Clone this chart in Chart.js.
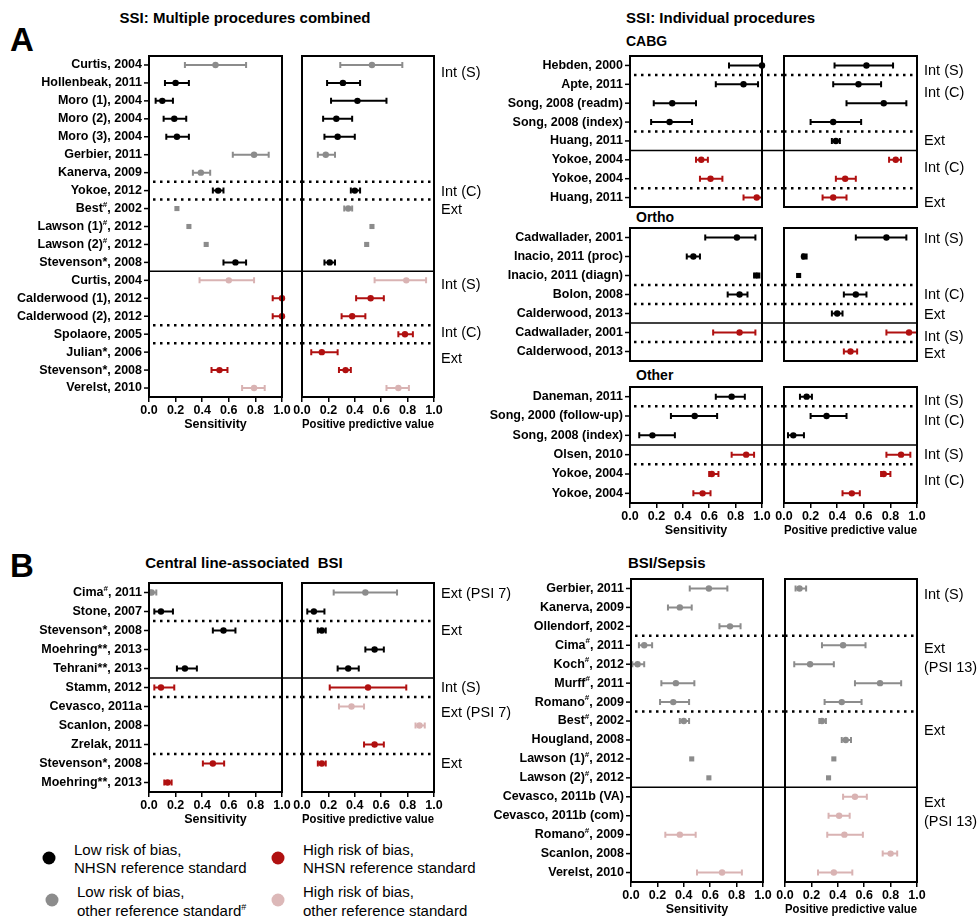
<!DOCTYPE html>
<html lang="en">
<head>
<meta charset="UTF-8">
<title>Sensitivity and PPV of surveillance methods</title>
<script src="https://cdn.jsdelivr.net/npm/chart.js"></script>
<style>
  body { margin: 0; background: #fff; font-family: 'Liberation Sans', Arial, Helvetica, sans-serif; }
  #fig { position: relative; width: 979px; height: 920px; overflow: hidden; background: #fff; }
  #fig canvas { position: absolute; }
  .t { position: absolute; white-space: nowrap; color: #000; line-height: 1.2; transform: translateY(-50%); }
  .c { transform: translate(-50%, -50%); }
  .b { font-weight: bold; }
  .dot { position: absolute; width: 13px; height: 13px; border-radius: 50%; transform: translate(-50%, -50%); }
  .leg { font-size: 15px; }
</style>
</head>
<body>
<div id="fig">
  <div class="t b" style="left:10px; top:40px; font-size:33px;">A</div>
  <div class="t b c" style="left:245px; top:18px; font-size:15px;">SSI: Multiple procedures combined</div>
  <div class="t b" style="left:626px; top:18px; font-size:15px;">SSI: Individual procedures</div>
  <div class="t b" style="left:626px; top:41px; font-size:14px;">CABG</div>
  <div class="t b" style="left:636px; top:217px; font-size:14px;">Ortho</div>
  <div class="t b" style="left:636px; top:375px; font-size:14px;">Other</div>

  <div class="t b" style="left:10px; top:566px; font-size:33px;">B</div>
  <div class="t b c" style="left:244px; top:563px; font-size:15px;">Central line-associated&nbsp; BSI</div>
  <div class="t b" style="left:628px; top:563px; font-size:15px;">BSI/Sepsis</div>

  <div class="dot" style="left:49px; top:858px; background:#000;"></div>
  <div class="t leg" style="left:74px; top:850px;">Low risk of bias,</div>
  <div class="t leg" style="left:74px; top:868px;">NHSN reference standard</div>
  <div class="dot" style="left:52px; top:900px; background:#8c8c8c;"></div>
  <div class="t leg" style="left:77px; top:892px;">Low risk of bias,</div>
  <div class="t leg" style="left:77px; top:911px;">other reference standard<sup style="font-size:9px;">#</sup></div>
  <div class="dot" style="left:278px; top:858px; background:#b01010;"></div>
  <div class="t leg" style="left:303px; top:850px;">High risk of bias,</div>
  <div class="t leg" style="left:303px; top:868px;">NHSN reference standard</div>
  <div class="dot" style="left:278px; top:900px; background:#dcb8b8;"></div>
  <div class="t leg" style="left:303px; top:892px;">High risk of bias,</div>
  <div class="t leg" style="left:303px; top:911px;">other reference standard</div>
</div>

<script>
    // row type: k = low risk NHSN, g = low risk other ref, r = high risk NHSN, p = high risk other ref
    // values are [estimate, lower CI, upper CI]; null = not reported

    // A, SSI: multiple procedures combined
    const ssiLabels = ['Curtis, 2004', 'Hollenbeak, 2011', 'Moro (1), 2004', 'Moro (2), 2004', 'Moro (3), 2004',
        'Gerbier, 2011', 'Kanerva, 2009', 'Yokoe, 2012', 'Best#, 2002', 'Lawson (1)#, 2012', 'Lawson (2)#, 2012',
        'Stevenson*, 2008', 'Curtis, 2004', 'Calderwood (1), 2012', 'Calderwood (2), 2012', 'Spolaore, 2005',
        'Julian*, 2006', 'Stevenson*, 2008', 'Verelst, 2010'];
    const ssiTypes = ['g', 'k', 'k', 'k', 'k', 'g', 'g', 'k', 'g', 'g', 'g', 'k', 'p', 'r', 'r', 'r', 'r', 'r', 'p'];
    const ssiSens = [[0.50, 0.27, 0.73], [0.20, 0.12, 0.30], [0.10, 0.05, 0.18], [0.19, 0.11, 0.28], [0.21, 0.13, 0.30],
        [0.79, 0.63, 0.90], [0.39, 0.33, 0.46], [0.52, 0.48, 0.56], [0.21], [0.30], [0.43],
        [0.65, 0.56, 0.73], [0.60, 0.38, 0.79], [1.00, 0.93, 1.00], [1.00, 0.93, 1.00], null,
        null, [0.53, 0.47, 0.59], [0.79, 0.70, 0.87]];
    const ssiPpv = [[0.53, 0.29, 0.76], [0.31, 0.19, 0.44], [0.42, 0.22, 0.64], [0.26, 0.16, 0.38], [0.27, 0.17, 0.40],
        [0.18, 0.12, 0.25], null, [0.40, 0.37, 0.44], [0.35, 0.32, 0.38], [0.53], [0.49],
        [0.21, 0.17, 0.25], [0.79, 0.55, 0.94], [0.52, 0.41, 0.62], [0.38, 0.30, 0.48], [0.78, 0.73, 0.84],
        [0.15, 0.07, 0.27], [0.33, 0.28, 0.37], [0.73, 0.64, 0.81]];

    // A, CABG
    const cabgLabels = ['Hebden, 2000', 'Apte, 2011', 'Song, 2008 (readm)', 'Song, 2008 (index)', 'Huang, 2011',
        'Yokoe, 2004', 'Yokoe, 2004', 'Huang, 2011'];
    const cabgTypes = ['k', 'k', 'k', 'k', 'k', 'r', 'r', 'r'];
    const cabgSens = [[1.00, 0.75, 1.00], [0.86, 0.65, 0.97], [0.32, 0.18, 0.50], [0.30, 0.16, 0.47], null,
        [0.54, 0.50, 0.59], [0.61, 0.53, 0.70], [0.96, 0.86, 1.00]];
    const cabgPpv = [[0.62, 0.38, 0.82], [0.56, 0.37, 0.73], [0.75, 0.47, 0.92], [0.37, 0.20, 0.58], [0.39, 0.36, 0.42],
        [0.84, 0.79, 0.88], [0.46, 0.39, 0.54], [0.37, 0.29, 0.47]];

    // A, Ortho
    const orthoLabels = ['Cadwallader, 2001', 'Inacio, 2011 (proc)', 'Inacio, 2011 (diagn)', 'Bolon, 2008',
        'Calderwood, 2013', 'Cadwallader, 2001', 'Calderwood, 2013'];
    const orthoTypes = ['k', 'k', 'k', 'k', 'k', 'r', 'r'];
    const orthoSens = [[0.81, 0.57, 0.95], [0.48, 0.43, 0.53], [0.96, 0.94, 0.98], [0.83, 0.74, 0.89], null,
        [0.83, 0.63, 0.95], null];
    const orthoPpv = [[0.77, 0.54, 0.92], [0.15, 0.14, 0.17], [0.11], [0.54, 0.45, 0.62], [0.40, 0.36, 0.44],
        [0.94, 0.77, 1.00], [0.50, 0.45, 0.55]];

    // A, Other
    const otherLabels = ['Daneman, 2011', 'Song, 2000 (follow-up)', 'Song, 2008 (index)', 'Olsen, 2010',
        'Yokoe, 2004', 'Yokoe, 2004'];
    const otherTypes = ['k', 'k', 'k', 'r', 'r', 'r'];
    const otherSens = [[0.77, 0.65, 0.87], [0.49, 0.31, 0.66], [0.17, 0.07, 0.34], [0.88, 0.77, 0.94],
        [0.62, 0.60, 0.67], [0.55, 0.48, 0.61]];
    const otherPpv = [[0.17, 0.12, 0.21], [0.32, 0.20, 0.47], [0.07, 0.03, 0.15], [0.88, 0.77, 0.95],
        [0.75, 0.73, 0.80], [0.51, 0.44, 0.57]];

    // B, central line-associated BSI
    const clabsiLabels = ['Cima#, 2011', 'Stone, 2007', 'Stevenson*, 2008', 'Moehring**, 2013', 'Tehrani**, 2013',
        'Stamm, 2012', 'Cevasco, 2011a', 'Scanlon, 2008', 'Zrelak, 2011', 'Stevenson*, 2008', 'Moehring**, 2013'];
    const clabsiTypes = ['g', 'k', 'k', 'k', 'k', 'r', 'p', 'p', 'r', 'r', 'r'];
    const clabsiSens = [[0.02, 0.01, 0.055], [0.09, 0.04, 0.18], [0.56, 0.48, 0.65], null, [0.27, 0.21, 0.36],
        [0.09, 0.04, 0.19], null, null, null, [0.48, 0.405, 0.565], [0.14, 0.115, 0.17]];
    const clabsiPpv = [[0.48, 0.24, 0.72], [0.09, 0.04, 0.17], [0.15, 0.12, 0.18], [0.55, 0.48, 0.62], [0.35, 0.27, 0.43],
        [0.50, 0.21, 0.79], [0.375, 0.28, 0.47], [0.89, 0.86, 0.93], [0.55, 0.47, 0.62], [0.15, 0.12, 0.18], null];

    // B, BSI/Sepsis
    const bsiLabels = ['Gerbier, 2011', 'Kanerva, 2009', 'Ollendorf, 2002', 'Cima#, 2011', 'Koch#, 2012',
        'Murff#, 2011', 'Romano#, 2009', 'Best#, 2002', 'Hougland, 2008', 'Lawson (1)#, 2012', 'Lawson (2)#, 2012',
        'Cevasco, 2011b (VA)', 'Cevasco, 2011b (com)', 'Romano#, 2009', 'Scanlon, 2008', 'Verelst, 2010'];
    const bsiTypes = ['g', 'g', 'g', 'g', 'g', 'g', 'g', 'g', 'g', 'g', 'g', 'p', 'p', 'p', 'p', 'p'];
    const bsiSens = [[0.59, 0.445, 0.73], [0.37, 0.28, 0.46], [0.75, 0.67, 0.83], [0.10, 0.06, 0.16], [0.05, 0.01, 0.10],
        [0.34, 0.23, 0.48], [0.32, 0.22, 0.44], [0.40, 0.37, 0.44], null, [0.46], [0.59],
        null, null, [0.37, 0.26, 0.49], null, [0.69, 0.50, 0.84]];
    const bsiPpv = [[0.11, 0.08, 0.16], null, null, [0.44, 0.28, 0.61], [0.19, 0.07, 0.37],
        [0.72, 0.53, 0.88], [0.43, 0.30, 0.58], [0.28, 0.26, 0.31], [0.46, 0.43, 0.50], [0.37], [0.33],
        [0.53, 0.44, 0.62], [0.41, 0.33, 0.49], [0.45, 0.32, 0.59], [0.80, 0.74, 0.85], [0.37, 0.25, 0.51]];

    const colors = { k: '#000000', g: '#8c8c8c', r: '#b01010', p: '#d9b3b3' };
    const FONT = "'Liberation Sans', Arial, Helvetica, sans-serif";
    Chart.defaults.font.family = FONT;
    Chart.defaults.color = '#000';

    const fig = document.getElementById('fig');

    // right-aligned row label, '#' drawn as superscript
    function drawLabel(ctx, text, xr, yy) {
        const parts = text.split(/(#)/).filter(s => s !== '');
        const big = 'bold 12.5px ' + FONT, small = 'bold 8px ' + FONT;
        let total = 0;
        parts.forEach(s => { ctx.font = s === '#' ? small : big; total += ctx.measureText(s).width; });
        let xx = xr - total;
        ctx.textAlign = 'left';
        ctx.textBaseline = 'middle';
        parts.forEach(s => {
            ctx.font = s === '#' ? small : big;
            ctx.fillText(s, xx, s === '#' ? yy - 4 : yy);
            xx += ctx.measureText(s).width;
        });
    }

    function forestPlugin(p, vals, isSens) {
        return {
            id: 'forest',
            beforeDatasetsDraw(chart) {
                const { ctx, scales: { x, y } } = chart;
                ctx.save();
                ctx.lineWidth = 2;
                vals.forEach((v, i) => {
                    if (!v || v[1] == null) return;
                    const yy = y.getPixelForValue(i);
                    const x1 = x.getPixelForValue(v[1]), x2 = x.getPixelForValue(v[2]);
                    ctx.strokeStyle = colors[p.types[i]];
                    ctx.beginPath();
                    ctx.moveTo(x1, yy); ctx.lineTo(x2, yy);
                    ctx.moveTo(x1, yy - 3); ctx.lineTo(x1, yy + 3);
                    ctx.moveTo(x2, yy - 3); ctx.lineTo(x2, yy + 3);
                    ctx.stroke();
                });
                ctx.restore();
            },
            afterDatasetsDraw(chart) {
                const { ctx, chartArea: a, scales: { y } } = chart;
                ctx.save();
                ctx.strokeStyle = '#000';
                ctx.fillStyle = '#000';
                ctx.lineWidth = 2;
                ctx.strokeRect(a.left, a.top, a.right - a.left, a.bottom - a.top);

                p.seps.forEach(s => {
                    const yy = (y.getPixelForValue(s.at - 1) + y.getPixelForValue(s.at)) / 2;
                    ctx.beginPath();
                    if (s.dot) { ctx.setLineDash([2.5, 4.5]); ctx.lineWidth = 2.5; }
                    else { ctx.setLineDash([]); ctx.lineWidth = 1.5; }
                    ctx.moveTo(a.left + (s.dot && isSens ? 4 : 0), yy);
                    ctx.lineTo(isSens ? chart.width : a.right, yy);
                    ctx.stroke();
                });
                ctx.setLineDash([]);

                if (isSens) {
                    ctx.lineWidth = 1.5;
                    p.labels.forEach((lab, i) => {
                        const yy = y.getPixelForValue(i);
                        ctx.beginPath();
                        ctx.moveTo(a.left - 5, yy); ctx.lineTo(a.left, yy);
                        ctx.stroke();
                        drawLabel(ctx, lab, a.left - 7, yy);
                    });
                } else {
                    ctx.font = '14.5px ' + FONT;
                    ctx.textAlign = 'left';
                    ctx.textBaseline = 'middle';
                    p.groups.forEach(g => {
                        const y0 = y.getPixelForValue(g.row);
                        [].concat(g.text).forEach((line, j) => ctx.fillText(line, a.right + 7, y0 + j * 18.5));
                    });
                }
                ctx.restore();
            }
        };
    }

    function makeSide(p, isSens) {
        const vals = isSens ? p.sens : p.ppv;
        const PT = 4, PB = 4, XH = 35, PL = 14, RW = 100;
        const boxH = p.bottom - p.top;
        const left = isSens ? p.sensL - p.labelW : p.ppvL - PL;
        const width = isSens ? p.ppvL - left : PL + (p.ppvR - p.ppvL) + RW;
        const height = PT + boxH + (p.showX ? XH : PB);
        const pad = isSens
            ? { left: p.labelW, right: p.ppvL - p.sensR, top: PT, bottom: p.showX ? 0 : PB }
            : { left: PL, right: RW, top: PT, bottom: p.showX ? 0 : PB };

        const canvas = document.createElement('canvas');
        canvas.width = width;
        canvas.height = height;
        canvas.style.left = left + 'px';
        canvas.style.top = (p.top - PT) + 'px';
        fig.appendChild(canvas);

        new Chart(canvas, {
            type: 'line',
            data: {
                labels: p.labels,
                datasets: [{
                    data: vals.map(v => v ? v[0] : null),
                    showLine: false,
                    clip: false,
                    pointStyle: vals.map(v => v && v[1] == null ? 'rect' : 'circle'),
                    pointRadius: vals.map(v => v && v[1] == null ? 3.6 : 3.2),
                    pointBackgroundColor: p.types.map(t => colors[t]),
                    pointBorderColor: p.types.map(t => colors[t]),
                    pointBorderWidth: 0
                }]
            },
            options: {
                indexAxis: 'y',
                responsive: false,
                animation: false,
                events: [],
                layout: { padding: pad },
                plugins: { legend: { display: false }, tooltip: { enabled: false } },
                scales: {
                    y: { type: 'category', display: false, offset: true },
                    x: {
                        type: 'linear', min: 0, max: 1, display: p.showX,
                        afterFit: s => { s.height = p.showX ? XH : 0; },
                        ticks: {
                            stepSize: 0.2, autoSkip: false, maxRotation: 0, padding: 1,
                            callback: v => v.toFixed(1),
                            font: { size: 12.5, weight: 'bold' }, color: '#000'
                        },
                        grid: { drawOnChartArea: false, drawTicks: true, tickLength: 5, color: '#000', lineWidth: 1.5 },
                        border: { display: true, color: '#000', width: 2 },
                        title: {
                            display: true, text: isSens ? 'Sensitivity' : 'Positive predictive value',
                            font: { size: 12.5, weight: 'bold' }, color: '#000', padding: { top: 0, bottom: 0 }
                        }
                    }
                }
            },
            plugins: [forestPlugin(p, vals, isSens)]
        });
    }

    function panel(p) {
        makeSide(p, true);
        makeSide(p, false);
    }

    panel({
        labels: ssiLabels, types: ssiTypes, sens: ssiSens, ppv: ssiPpv,
        top: 56, bottom: 397, sensL: 149, sensR: 282, ppvL: 302, ppvR: 434, labelW: 149, showX: true,
        seps: [{ at: 7, dot: true }, { at: 8, dot: true }, { at: 12 }, { at: 15, dot: true }, { at: 16, dot: true }],
        groups: [{ text: 'Int (S)', row: 0.45 }, { text: 'Int (C)', row: 7.1 }, { text: 'Ext', row: 8.1 },
            { text: 'Int (S)', row: 12.25 }, { text: 'Int (C)', row: 14.95 }, { text: 'Ext', row: 16.4 }]
    });

    panel({
        labels: cabgLabels, types: cabgTypes, sens: cabgSens, ppv: cabgPpv,
        top: 56, bottom: 207, sensL: 630, sensR: 762, ppvL: 784, ppvR: 917, labelW: 140, showX: false,
        seps: [{ at: 1, dot: true }, { at: 4, dot: true }, { at: 5 }, { at: 7, dot: true }],
        groups: [{ text: 'Int (S)', row: 0.3 }, { text: 'Int (C)', row: 1.45 }, { text: 'Ext', row: 4.0 },
            { text: 'Int (C)', row: 5.45 }, { text: 'Ext', row: 7.3 }]
    });

    panel({
        labels: orthoLabels, types: orthoTypes, sens: orthoSens, ppv: orthoPpv,
        top: 228, bottom: 361, sensL: 630, sensR: 762, ppvL: 784, ppvR: 917, labelW: 140, showX: false,
        seps: [{ at: 3, dot: true }, { at: 4, dot: true }, { at: 5 }, { at: 6, dot: true }],
        groups: [{ text: 'Int (S)', row: 0.1 }, { text: 'Int (C)', row: 3.0 }, { text: 'Ext', row: 4.1 },
            { text: 'Int (S)', row: 5.25 }, { text: 'Ext', row: 6.15 }]
    });

    panel({
        labels: otherLabels, types: otherTypes, sens: otherSens, ppv: otherPpv,
        top: 387, bottom: 503, sensL: 630, sensR: 762, ppvL: 784, ppvR: 917, labelW: 140, showX: true,
        seps: [{ at: 1, dot: true }, { at: 3 }, { at: 4, dot: true }],
        groups: [{ text: 'Int (S)', row: 0.2 }, { text: 'Int (C)', row: 1.25 }, { text: 'Int (S)', row: 3.0 },
            { text: 'Int (C)', row: 4.35 }]
    });

    panel({
        labels: clabsiLabels, types: clabsiTypes, sens: clabsiSens, ppv: clabsiPpv,
        top: 583, bottom: 792, sensL: 149, sensR: 282, ppvL: 302, ppvR: 434, labelW: 149, showX: true,
        seps: [{ at: 2, dot: true }, { at: 5 }, { at: 6, dot: true }, { at: 9, dot: true }],
        groups: [{ text: 'Ext (PSI 7)', row: 0.1 }, { text: 'Ext', row: 2.05 }, { text: 'Int (S)', row: 5.05 },
            { text: 'Ext (PSI 7)', row: 6.35 }, { text: 'Ext', row: 9.05 }]
    });

    panel({
        labels: bsiLabels, types: bsiTypes, sens: bsiSens, ppv: bsiPpv,
        top: 579, bottom: 882, sensL: 631, sensR: 763, ppvL: 785, ppvR: 917, labelW: 140, showX: true,
        seps: [{ at: 3, dot: true }, { at: 7, dot: true }, { at: 11 }],
        groups: [{ text: 'Int (S)', row: 0.35 }, { text: ['Ext', '(PSI 13)'], row: 3.2 }, { text: 'Ext', row: 7.5 },
            { text: ['Ext', '(PSI 13)'], row: 11.35 }]
    });
</script>
</body>
</html>
